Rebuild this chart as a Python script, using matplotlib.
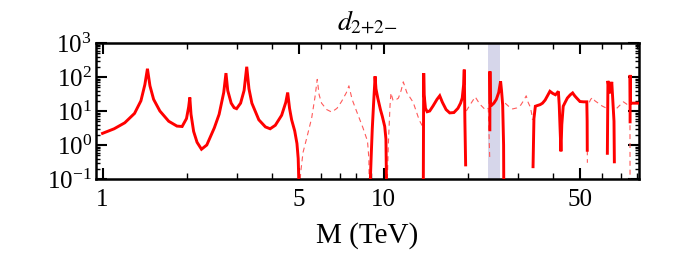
import numpy as np
import matplotlib
matplotlib.use("Agg")
import matplotlib.pyplot as plt
from matplotlib.ticker import FixedLocator, FixedFormatter, NullFormatter, LogLocator

plt.rcParams['font.family'] = ['Liberation Serif', 'DejaVu Serif']
plt.rcParams['mathtext.fontset'] = 'stix'

LOW = 0.03  # below the axis, used where the curve crosses zero
NAN = np.nan

# M in TeV, signed d value (d<0 drawn dashed), nan = gap
mass = [
    1.00, 1.10, 1.20, 1.30, 1.37, 1.415, 1.445, 1.475, 1.52, 1.60, 1.72, 1.84, 1.92, 1.99, 2.025, 2.045,
    2.065, 2.11, 2.17, 2.25, 2.35, 2.50, 2.60, 2.70, 2.75, 2.79, 2.87, 2.94, 3.00, 3.10, 3.19, 3.26,
    3.32, 3.40, 3.60, 3.80, 3.95, 4.12, 4.34, 4.49, 4.56, 4.63, 4.71, 4.83, 4.92, 4.97, 4.99, 5.00,
    5.02, 5.07, 5.17, 5.33, 5.55, 5.70, 5.81, 5.90, 6.02, 6.28, 6.54, 6.83, 7.09, 7.38, 7.53, 7.73,
    8.02, 8.45, 8.77, 8.87, 8.90,
    8.93, 9.05, 9.12, 9.22, 9.30, 9.33, 9.40, 9.54, 9.75, 9.90, 10.10, 10.20, 10.26,
    10.28, 10.40, 10.55, 10.63, 10.80, 10.95, 11.30, 11.55, 11.76, 12.10, 12.75, 13.40, 13.78,
    13.85, 13.88, 13.90, 13.95, 14.10, 14.30, 14.60, 15.00, 15.50, 15.85, 16.20, 16.70, 17.20, 17.80,
    18.40, 18.80, 19.06, 19.28, 19.38, 19.48, 19.60,
    19.70, 20.30, 21.20, 22.00, 23.00, 23.60, 23.88,
    23.90, 23.92, 23.98, 24.30, 24.70, 25.20, 25.70, 26.10, 26.30, 26.55, 26.75, 26.80,
    27.10, 27.80, 28.80, 29.80, 30.80, 31.60, 32.20, 32.70, 33.30, 33.70, 33.90,
    34.05, 34.30, 34.70, 35.30, 36.10, 36.80, 37.60, 38.50, 39.10, 40.00, 40.90, 41.50, 41.90, 42.20,
    42.50, 42.80, 43.10, 43.60, 44.30, 45.10, 46.20, 47.10, 47.90, 48.70, 50.00, 51.50, 52.90, 53.05,
    53.10,
    53.12, 53.15, 53.50, 54.00, 54.60, 55.50, 56.50, 58.10, 60.00, 62.30,
    62.60, 62.90, 63.80, 64.90, 66.10, 66.30,
    67.60, 69.50, 71.40, 73.30, 75.10, 75.35, 75.40,
    75.42, 75.45, 75.60, 78.00, 81.00,
]
d_val = [
    2.2, 3.0, 4.5, 8.5, 20, 60, 175, 55, 22, 10, 5, 3.6, 3.5, 6, 13, 25,
    8, 2.5, 1.2, 0.75, 1.0, 3.2, 8, 35, 130, 40, 17, 12.5, 11.7, 17, 40, 200,
    45, 17, 5.5, 3.4, 3.0, 3.8, 7.5, 18, 35, 12, 5.5, 2.6, 1.1, 0.4, 0.12, LOW,
    -LOW, -0.15, -0.6, -1.6, -6.2, -25, -85, -30, -17, -11, -9.3, -12, -19, -35, -55, -22,
    -9.8, -3.2, -1.3, -0.4, -LOW,
    LOW, 0.6, 3, 17, 60, 105, 45, 24, 11, 7, 3.5, 1.5, LOW,
    -LOW, -1, -15, -34, -21, -20, -24, -40, -72, -35, -18, -5.4, -3.5,
    LOW, 5, 130, 30, 12, 9.5, 10, 14, 22, 28, 18, 11, 8.8, 9,
    12, 17, 24, 60, 165, 5, 0.26,
    -10, -15, -26, -16, -11, -12, -0.4,
    2.8, 147, 17, 15, 17, 22, 35, 75, 40, 15, 1, LOW,
    -17, -14, -11.5, -12.3, -15, -21, -28, -18, -13, -8, -5.5,
    0.23, 6, 13.8, 14.5, 15.4, 17, 21, 30, 38, 33, 30, 34, 38, 15,
    3, 0.65, 4, 13.8, 18, 24, 30, 34, 28, 24, 19, 18.6, 18.6, 5,
    0.7,
    -0.7, -0.3, NAN, -18, -22, -25, -20, -17, -14, -12,
    0.57, 77, 33, 72, 5, 0.32,
    -12, -15, -18.6, -16, -13, -4.8, -LOW,
    4.8, 115, 17, 17, 17,
]

band = (23.5, 26.0)

m = np.array(mass)
d = np.array(d_val, dtype=float)
sgn = np.sign(d)

# split into runs of the same sign
runs = []
start = 0
last = sgn[0]
for i in range(1, len(d)):
    if np.isnan(sgn[i]):
        continue
    if sgn[i] != last:
        runs.append((start, i, last))
        start = i
    last = sgn[i]
runs.append((start, len(d), last))

fig = plt.figure(figsize=(6.81, 2.54), dpi=100)
ax = fig.add_axes([96 / 681, 75 / 254, 542.5 / 681, 136 / 254])

ax.axvspan(band[0], band[1], color='#d6d6ea', lw=0, zorder=0)

for a, b, s in runs:
    if s > 0:
        ax.plot(m[a:b], np.abs(d[a:b]), color='red', lw=2.1, zorder=3,
                solid_joinstyle='miter')
    else:
        ax.plot(m[a:b], np.abs(d[a:b]), color='#ff5a5a', lw=0.8, zorder=2,
                dashes=(4.5, 3.5))

ax.set_xscale('log')
ax.set_yscale('log')
ax.set_xlim(0.948, 80.8)
ax.set_ylim(0.1, 1000)

ax.xaxis.set_major_locator(FixedLocator([1, 5, 10, 50]))
ax.xaxis.set_major_formatter(FixedFormatter(['1', '5', '10', '50']))
ax.xaxis.set_minor_locator(FixedLocator([2, 3, 4, 6, 7, 8, 9, 20, 30, 40, 60, 70, 80]))
ax.xaxis.set_minor_formatter(NullFormatter())
ax.yaxis.set_major_locator(LogLocator(base=10, numticks=10))
ax.yaxis.set_minor_locator(LogLocator(base=10, subs=np.arange(2, 10), numticks=10))
ax.yaxis.set_minor_formatter(NullFormatter())

ax.tick_params(which='both', direction='in', top=True, right=True, labelsize=18)
ax.tick_params(which='major', length=8, width=1.5)
ax.tick_params(which='minor', length=3, width=1)
ax.tick_params(axis='x', which='minor', length=4.5)
ax.tick_params(axis='x', which='major', pad=7)
ax.tick_params(axis='y', which='major', pad=3)
for sp in ax.spines.values():
    sp.set_linewidth(1.8)

ax.set_xlabel('M (TeV)', fontsize=21, labelpad=8)
ax.set_title(r'$d_{2{+}2{-}}$', fontsize=20, pad=10)

fig.savefig('out.png', dpi=100)
